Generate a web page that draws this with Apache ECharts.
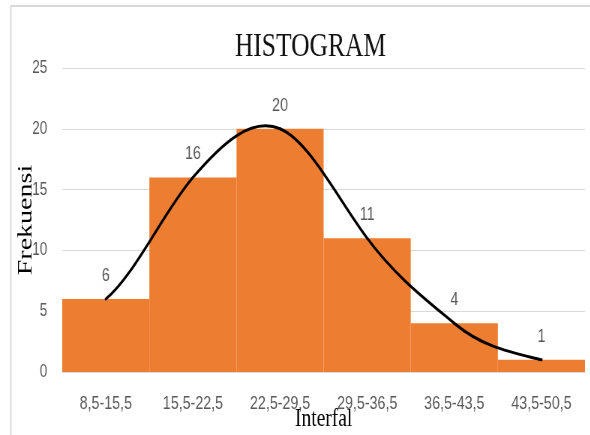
<!DOCTYPE html>
<html>
<head>
<meta charset="utf-8">
<script src="https://cdn.jsdelivr.net/npm/echarts@6/dist/echarts.min.js"></script>
<style>
  html, body { margin: 0; padding: 0; background: #fff; overflow: hidden; }
  /* the reference is squeezed horizontally, so draw wider and compress */
  #chart { width: 787px; height: 435px; transform: scaleX(0.75); transform-origin: 0 0; }
</style>
</head>
<body>
<div id="chart"></div>
<script>
// data
const intervals = ['8,5-15,5', '15,5-22,5', '22,5-29,5', '29,5-36,5', '36,5-43,5', '43,5-50,5'];
const frequencies = [6, 16, 20, 11, 4, 1];

const chart = echarts.init(document.getElementById('chart'));

// Excel-like smoothed curve: one bezier segment between each pair of points
const tension = 0.2;
function renderCurveSegment(params, api) {
  const i = params.dataIndex;
  const n = frequencies.length;
  if (i >= n - 1) return null;
  const pt = k => {
    k = Math.max(0, Math.min(n - 1, k));
    return api.coord([k, frequencies[k]]);
  };
  const p0 = pt(i - 1), p1 = pt(i), p2 = pt(i + 1), p3 = pt(i + 2);
  const dx = (p2[0] - p1[0]) / 3;
  const c1 = [p1[0] + dx, p1[1] + (p2[1] - p0[1]) * tension];
  const c2 = [p2[0] - dx, p2[1] - (p3[1] - p1[1]) * tension];
  return {
    type: 'bezierCurve',
    shape: { x1: p1[0], y1: p1[1], cpx1: c1[0], cpy1: c1[1], cpx2: c2[0], cpy2: c2[1], x2: p2[0], y2: p2[1] },
    style: { stroke: '#000', lineWidth: 3, fill: 'none', lineCap: 'round' },
    z2: 10
  };
}

const option = {
  animation: false,
  title: {
    text: 'HISTOGRAM',
    left: 409,
    top: 25,
    textAlign: 'center',
    textStyle: { fontFamily: 'Liberation Serif', fontSize: 34, fontWeight: 'normal', color: '#111' }
  },
  graphic: [{
    type: 'rect',
    shape: { x: 14.5, y: 6, width: 2000, height: 1000 },
    style: { fill: 'none', stroke: '#d9d9d9', lineWidth: 2 },
    silent: true
  }],
  grid: { left: 83, right: 7, top: 68, bottom: 63, outerBoundsMode: 'none', containLabel: false },
  xAxis: {
    type: 'category',
    data: intervals,
    name: 'Interfal',
    nameLocation: 'middle',
    nameGap: 34,
    nameMoveOverlap: false,
    nameTextStyle: { fontFamily: 'Liberation Serif', fontSize: 26, color: '#000' },
    axisLine: { lineStyle: { color: '#d9d9d9', width: 1 } },
    axisTick: { show: false },
    axisLabel: { margin: 22, fontFamily: 'Liberation Sans', fontSize: 19, color: '#595959' }
  },
  yAxis: {
    type: 'value',
    min: 0,
    max: 25,
    interval: 5,
    name: 'Frekuensi',
    nameLocation: 'middle',
    nameGap: 34,
    nameRotate: 90,
    nameMoveOverlap: false,
    nameTextStyle: { fontFamily: 'Liberation Serif', fontSize: 28, color: '#000' },
    axisLine: { show: false },
    axisTick: { show: false },
    splitLine: { lineStyle: { color: '#d9d9d9', width: 1 } },
    axisLabel: { margin: 20, fontFamily: 'Liberation Sans', fontSize: 18, color: '#595959' }
  },
  series: [
    {
      type: 'bar',
      data: frequencies,
      barCategoryGap: '0%',
      itemStyle: { color: '#ED7D31' },
      label: {
        show: true,
        position: 'top',
        distance: 14,
        fontFamily: 'Liberation Sans',
        fontSize: 19,
        color: '#595959'
      }
    },
    {
      type: 'custom',
      data: frequencies,
      z: 5,
      renderItem: renderCurveSegment
    }
  ]
};

chart.setOption(option);
</script>
</body>
</html>
